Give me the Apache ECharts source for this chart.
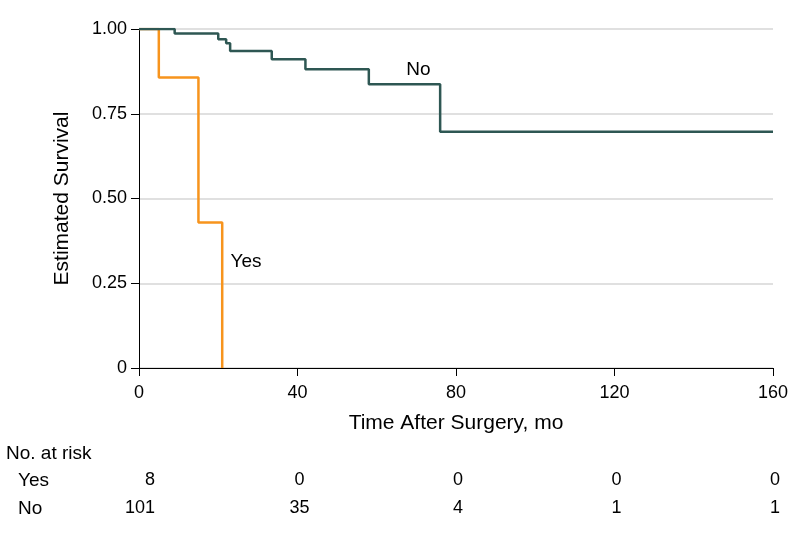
<!DOCTYPE html>
<html>
<head>
<meta charset="utf-8">
<script src="https://cdn.jsdelivr.net/npm/echarts@6/dist/echarts.min.js"></script>
<style>html,body{margin:0;padding:0;background:#fff}#c{width:794px;height:535px}</style>
</head>
<body>
<div id="c"></div>
<script>
// Kaplan-Meier step data (time in months, estimated survival)
var yesTimes = [0, 5, 15, 21];
var yesSurv  = [1.0, 0.857, 0.429, 0.0];
var noTimes  = [0, 9, 20, 22, 23, 33.5, 42, 58, 76, 160];
var noSurv   = [1.0, 0.987, 0.970, 0.958, 0.935, 0.911, 0.881, 0.837, 0.697, 0.697];

// Number at risk table
var riskTimes = [0, 40, 80, 120, 160];
var riskYes   = [8, 0, 0, 0, 0];
var riskNo    = [101, 35, 4, 1, 1];

// Tick labels
var yTicks = [0, 0.25, 0.5, 0.75, 1.0];
var xTicks = [0, 40, 80, 120, 160];

var FONT = '"Liberation Sans", Arial, sans-serif';
var GREEN = '#2e5753';
var ORANGE = '#f7941d';

function pairs(t, s) { return t.map(function (v, i) { return [v, s[i]]; }); }
function riskLabel(arr) {
  return function (v) {
    var i = riskTimes.indexOf(v);
    if (i < 0) return '';
    return i === 0 ? '{f|' + arr[i] + '}' : '{c|' + arr[i] + '}';
  };
}

var chart = echarts.init(document.getElementById('c'), null, {renderer: 'canvas'});
var hidden = {show: false};
function riskAxis(arr, off) {
  return {
    type: 'value', min: 0, max: 160, interval: 40, position: 'bottom', offset: off,
    axisLine: hidden, axisTick: hidden, splitLine: hidden,
    axisLabel: {formatter: riskLabel(arr), color: '#000', fontFamily: FONT, fontSize: 18, margin: 8,
      rich: {
        f: {width: 32, align: 'right', fontFamily: FONT, fontSize: 18, color: '#000'},
        c: {padding: [0, 0, 0, 4], fontFamily: FONT, fontSize: 18, color: '#000'}
      }}
  };
}

chart.setOption({
  animation: false,
  textStyle: {fontFamily: FONT},
  grid: {left: 139, right: 21, top: 29, bottom: 167, containLabel: false},
  xAxis: [{
    type: 'value', min: 0, max: 160, interval: 40,
    name: 'Time After Surgery, mo', nameLocation: 'middle', nameGap: 45,
    nameTextStyle: {color: '#000', fontFamily: FONT, fontSize: 21},
    axisLine: {show: true, lineStyle: {color: '#000', width: 1}},
    axisTick: {show: true, length: 8, lineStyle: {color: '#000'}},
    axisLabel: {color: '#000', fontFamily: FONT, fontSize: 18, margin: 16,
      formatter: function (v) { return xTicks.indexOf(v) >= 0 ? String(v) : ''; }},
    splitLine: {show: false}
  }, riskAxis(riskYes, 95), riskAxis(riskNo, 123)],
  yAxis: {
    type: 'value', min: 0, max: 1, interval: 0.25,
    name: 'Estimated Survival', nameLocation: 'middle', nameGap: 66,
    nameTextStyle: {color: '#000', fontFamily: FONT, fontSize: 21},
    axisLine: {show: true, lineStyle: {color: '#000', width: 1}},
    axisTick: {show: true, length: 8, lineStyle: {color: '#000'}},
    axisLabel: {color: '#000', fontFamily: FONT, fontSize: 18, margin: 12,
      formatter: function (v) { return v === 0 ? '0' : v.toFixed(2); }},
    splitLine: {show: true, lineStyle: {color: '#d6d6d6', width: 1.5}}
  },
  series: [{
    name: 'No', type: 'line', step: 'end', data: pairs(noTimes, noSurv),
    symbol: 'none', lineStyle: {color: GREEN, width: 2.5}, z: 3,
    markPoint: {symbol: 'circle', symbolSize: 0, silent: true,
      label: {show: true, formatter: 'No', color: '#000', fontFamily: FONT, fontSize: 19, position: 'inside'},
      data: [{coord: [70.5, 0.879]}]}
  }, {
    name: 'Yes', type: 'line', step: 'end', data: pairs(yesTimes, yesSurv),
    symbol: 'none', lineStyle: {color: ORANGE, width: 2.5}, z: 2,
    markPoint: {symbol: 'circle', symbolSize: 0, silent: true,
      label: {show: true, formatter: 'Yes', color: '#000', fontFamily: FONT, fontSize: 19, position: 'inside'},
      data: [{coord: [27, 0.313]}]}
  }],
  graphic: [
    {type: 'text', left: 6, top: 444, style: {text: 'No. at risk', fontFamily: FONT, fontSize: 19, fill: '#000'}},
    {type: 'text', left: 18, top: 471, style: {text: 'Yes', fontFamily: FONT, fontSize: 19, fill: '#000'}},
    {type: 'text', left: 18, top: 499, style: {text: 'No', fontFamily: FONT, fontSize: 19, fill: '#000'}}
  ]
});
</script>
</body>
</html>
